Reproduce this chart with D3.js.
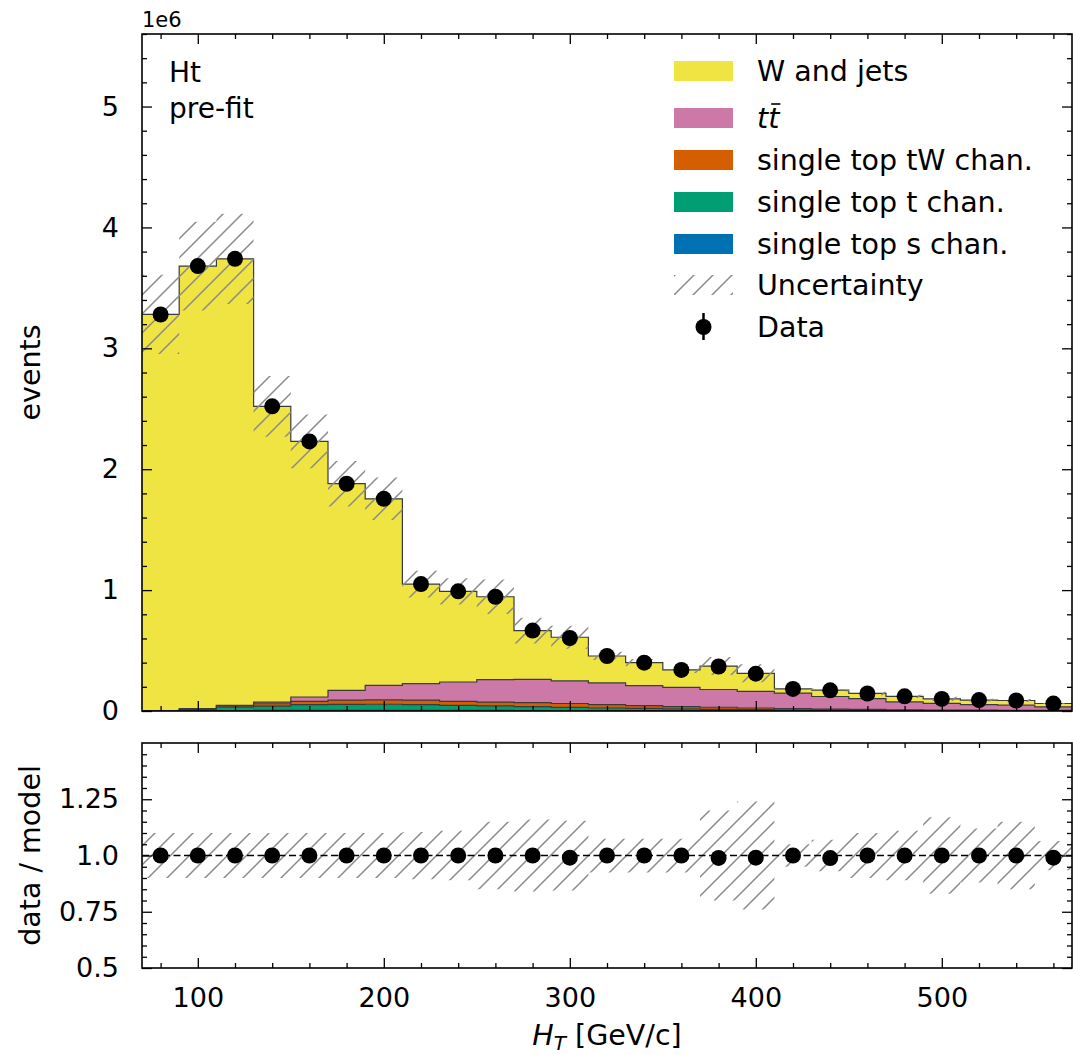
<!DOCTYPE html>
<html><head><meta charset="utf-8">
<script src="https://cdn.jsdelivr.net/npm/d3@7"></script>
<style>
body{margin:0;background:#fff;}
svg text{font-family:"DejaVu Sans",sans-serif;fill:#000;}
</style></head><body>
<svg id="c" width="1073" height="1055"></svg>
<script>
// ---- data (values in units of 1e6 events) ----
const binLow = [70,90,110,130,150,170,190,210,230,250,270,290,310,330,350,370,390,410,430,450,470,490,510,530,550];
const binWidth = 20;
const sChan  = [0.0005,0.002,0.004,0.005,0.005,0.006,0.006,0.006,0.005,0.005,0.004,0.004,0.003,0.003,0.002,0.002,0.0015,0.001,0.001,0.001,0.0008,0.0006,0.0005,0.0004,0.0003];
const tChan  = [0.001,0.007,0.028,0.036,0.047,0.049,0.05,0.046,0.042,0.037,0.032,0.026,0.022,0.018,0.016,0.012,0.0095,0.007,0.0055,0.0045,0.0037,0.0029,0.0023,0.002,0.0014];
const tWChan = [0.0005,0.004,0.01,0.019,0.028,0.035,0.036,0.038,0.033,0.032,0.034,0.032,0.027,0.024,0.019,0.017,0.014,0.012,0.0095,0.0075,0.0055,0.0045,0.0037,0.0031,0.0028];
const ttbar  = [0.001,0.006,0.005,0.014,0.036,0.081,0.12,0.136,0.16,0.186,0.192,0.188,0.18,0.165,0.158,0.147,0.137,0.128,0.104,0.089,0.066,0.055,0.0465,0.0425,0.0295];
const wjets  = [3.277,3.661,3.693,2.446,2.114,1.709,1.543,0.824,0.75,0.685,0.403,0.36,0.223,0.19,0.145,0.194,0.15,0.035,0.053,0.043,0.045,0.037,0.037,0.039,0.028];
const dataVals = [3.28,3.68,3.74,2.52,2.23,1.88,1.755,1.05,0.99,0.945,0.665,0.604,0.455,0.40,0.34,0.368,0.309,0.183,0.171,0.145,0.121,0.10,0.09,0.087,0.0614];
const relUnc = [0.10,0.10,0.10,0.10,0.10,0.10,0.10,0.105,0.11,0.15,0.16,0.155,0.075,0.075,0.075,0.20,0.24,0.05,0.07,0.10,0.11,0.17,0.12,0.15,0.065];
const seriesNames = ["single top s chan.","single top t chan.","single top tW chan.","tt","W and jets"];
const seriesColors = ["#0072B2","#009E73","#D55E00","#CC79A7","#F0E442"];
const xMajorTicks = [100,200,300,400,500];
const yMainTicks = [0,1,2,3,4,5];
const yRatioTicks = [0.5,0.75,1.0,1.25];
const yRatioLabels = ["0.5","0.75","1.0","1.25"];

// ---- layout ----
const svg = d3.select("#c");
const L=142,R=1072,mT=34,mB=711,rT=743,rB=968;
const x = d3.scaleLinear().domain([70,570]).range([L,R]);
const y = d3.scaleLinear().domain([0,5.6]).range([mB,mT]);
const yr = d3.scaleLinear().domain([0.5,1.5]).range([rB,rT]);

const defs = svg.append("defs");
const pat = defs.append("pattern").attr("id","hatch").attr("patternUnits","userSpaceOnUse")
  .attr("width",19).attr("height",19);
pat.append("path").attr("d","M-2,2 L2,-2 M0,19 L19,0 M17,21 L21,17")
  .attr("stroke","#8a8a8a").attr("stroke-width",1.5).attr("fill","none");
defs.append("clipPath").attr("id","clipM").append("rect").attr("x",L).attr("y",mT).attr("width",R-L).attr("height",mB-mT);
defs.append("clipPath").attr("id","clipR").append("rect").attr("x",L).attr("y",rT).attr("width",R-L).attr("height",rB-rT);

// ---- stack ----
const keys = ["s","t","tW","tt","w"];
const rows = binLow.map((b,i)=>({lo:b,s:sChan[i],t:tChan[i],tW:tWChan[i],tt:ttbar[i],w:wjets[i]}));
const stacked = d3.stack().keys(keys)(rows);
const totals = rows.map(r=>r.s+r.t+r.tW+r.tt+r.w);

function stepPts(lo,hi){const p=[];binLow.forEach((b,i)=>{p.push([b,lo[i],hi[i]]);p.push([b+binWidth,lo[i],hi[i]]);});return p;}

const gM = svg.append("g").attr("clip-path","url(#clipM)");
const areaM = d3.area().x(d=>x(d[0])).y0(d=>y(d[1])).y1(d=>y(d[2]));
const lineM = d3.line().x(d=>x(d[0])).y(d=>y(d[2]));
stacked.forEach((s,k)=>{
  const pts = stepPts(s.map(d=>d[0]), s.map(d=>d[1]));
  gM.append("path").attr("d",areaM(pts)).attr("fill",seriesColors[k]).attr("stroke","none");
});
stacked.forEach((s,k)=>{
  const pts = stepPts(s.map(d=>d[0]), s.map(d=>d[1]));
  gM.append("path").attr("d",lineM(pts)).attr("fill","none").attr("stroke","#3a3a3a").attr("stroke-width",1.2);
});
// uncertainty band
const bandPts = stepPts(totals.map((t,i)=>t*(1-relUnc[i])), totals.map((t,i)=>t*(1+relUnc[i])));
gM.append("path").attr("d",areaM(bandPts)).attr("fill","url(#hatch)").attr("stroke","none");
// data points
gM.selectAll("circle.d").data(dataVals).join("circle")
  .attr("cx",(d,i)=>x(binLow[i]+binWidth/2)).attr("cy",d=>y(d)).attr("r",8).attr("fill","#000");

// ---- ratio ----
const gR = svg.append("g").attr("clip-path","url(#clipR)");
const areaR = d3.area().x(d=>x(d[0])).y0(d=>yr(d[1])).y1(d=>yr(d[2]));
const rBand = stepPts(relUnc.map(u=>1-u), relUnc.map(u=>1+u));
gR.append("path").attr("d",areaR(rBand)).attr("fill","url(#hatch)");
gR.append("line").attr("x1",L).attr("x2",R).attr("y1",yr(1)).attr("y2",yr(1))
  .attr("stroke","#000").attr("stroke-width",1.6).attr("stroke-dasharray","7,3.5");
gR.selectAll("circle").data(dataVals.map((d,i)=>d/totals[i])).join("circle")
  .attr("cx",(d,i)=>x(binLow[i]+binWidth/2)).attr("cy",d=>yr(d)).attr("r",8).attr("fill","#000");

// ---- axes ----
const xMinor = d3.range(80,570,20).filter(v=>v%100!==0);
function styleAxis(g,fs){g.select(".domain").remove();g.selectAll(".tick line").attr("stroke","#000").attr("stroke-width",1.3);
  g.selectAll("text").attr("font-size",fs).attr("font-family","DejaVu Sans").attr("fill","#000");}
function panelAxes(ys,top,bot,yMaj,yMin,yFmt,xLabels){
  const gb=svg.append("g").attr("transform",`translate(0,${bot})`)
    .call(d3.axisBottom(x).tickValues(xMajorTicks).tickSize(-10).tickPadding(20).tickFormat(xLabels?d3.format("d"):""));
  styleAxis(gb,27);
  const gb2=svg.append("g").attr("transform",`translate(0,${bot})`).call(d3.axisBottom(x).tickValues(xMinor).tickSize(-5).tickFormat(""));
  styleAxis(gb2,27);
  const gt=svg.append("g").attr("transform",`translate(0,${top})`).call(d3.axisTop(x).tickValues(xMajorTicks).tickSize(-10).tickFormat(""));
  styleAxis(gt,27);
  const gt2=svg.append("g").attr("transform",`translate(0,${top})`).call(d3.axisTop(x).tickValues(xMinor).tickSize(-5).tickFormat(""));
  styleAxis(gt2,27);
  const gl=svg.append("g").attr("transform",`translate(${L},0)`).call(d3.axisLeft(ys).tickValues(yMaj).tickSize(-10).tickPadding(23).tickFormat(yFmt));
  styleAxis(gl,27);
  const gl2=svg.append("g").attr("transform",`translate(${L},0)`).call(d3.axisLeft(ys).tickValues(yMin).tickSize(-5).tickFormat(""));
  styleAxis(gl2,27);
  const gr=svg.append("g").attr("transform",`translate(${R},0)`).call(d3.axisRight(ys).tickValues(yMaj).tickSize(-10).tickFormat(""));
  styleAxis(gr,27);
  const gr2=svg.append("g").attr("transform",`translate(${R},0)`).call(d3.axisRight(ys).tickValues(yMin).tickSize(-5).tickFormat(""));
  styleAxis(gr2,27);
  svg.append("rect").attr("x",L).attr("y",top).attr("width",R-L).attr("height",bot-top)
    .attr("fill","none").attr("stroke","#000").attr("stroke-width",1.6);
}
const yMainMinor = d3.range(0,29).map(i=>+(i*0.2).toFixed(2)).filter(v=>Math.abs(v-Math.round(v))>1e-6);
panelAxes(y,mT,mB,yMainTicks,yMainMinor,d=>String(d),false);
const yRatioMinor = d3.range(0,20).map(i=>+(0.5+i*0.05).toFixed(2)).filter(v=>Math.abs(v*4-Math.round(v*4))>1e-6);
panelAxes(yr,rT,rB,yRatioTicks,yRatioMinor,d=>yRatioLabels[yRatioTicks.indexOf(d)],true);

// ---- labels ----
svg.append("text").attr("x",142).attr("y",27).attr("font-size",21).text("1e6");
svg.append("text").attr("transform",`translate(40,${(mT+mB)/2}) rotate(-90)`).attr("text-anchor","middle").attr("font-size",28.5).text("events");
svg.append("text").attr("transform",`translate(40,${(rT+rB)/2}) rotate(-90)`).attr("text-anchor","middle").attr("font-size",28.5).text("data / model");
const xl = svg.append("text").attr("x",(L+R)/2).attr("y",1045).attr("text-anchor","middle").attr("font-size",28.5);
xl.append("tspan").attr("font-style","italic").text("H");
xl.append("tspan").attr("font-style","italic").attr("font-size",20).attr("dy",5).text("T");
xl.append("tspan").attr("dy",-5).text(" [GeV/c]");
svg.append("text").attr("x",169).attr("y",82).attr("font-size",28).text("Ht");
svg.append("text").attr("x",169).attr("y",118).attr("font-size",28).text("pre-fit");

// ---- legend ----
const legRows = [71,118,160,202,244,285,327];
const legX = 674, legW = 59, legH = 20, legTX = 757;
const order = [4,3,2,1,0];
order.forEach((k,j)=>{
  const cy = legRows[j];
  svg.append("rect").attr("x",legX).attr("y",cy-legH/2).attr("width",legW).attr("height",legH).attr("fill",seriesColors[k]);
  const t = svg.append("text").attr("x",legTX).attr("y",cy+10).attr("font-size",28.5);
  if(seriesNames[k]==="tt"){
    t.attr("font-style","italic").text("tt");
    const ext = t.node().getExtentOfChar(1);
    svg.append("line").attr("x1",ext.x+3).attr("x2",ext.x+ext.width+1).attr("y1",cy-14).attr("y2",cy-14)
      .attr("stroke","#000").attr("stroke-width",1.6);
  } else t.text(seriesNames[k]);
});
svg.append("rect").attr("x",legX).attr("y",legRows[5]-legH/2).attr("width",legW).attr("height",legH).attr("fill","url(#hatch)");
svg.append("text").attr("x",legTX).attr("y",legRows[5]+10).attr("font-size",28.5).text("Uncertainty");
svg.append("line").attr("x1",legX+legW/2).attr("x2",legX+legW/2).attr("y1",legRows[6]-14).attr("y2",legRows[6]+13).attr("stroke","#000").attr("stroke-width",2.5);
svg.append("circle").attr("cx",legX+legW/2).attr("cy",legRows[6]).attr("r",8).attr("fill","#000");
svg.append("text").attr("x",legTX).attr("y",legRows[6]+10).attr("font-size",28.5).text("Data");
</script></body></html>
